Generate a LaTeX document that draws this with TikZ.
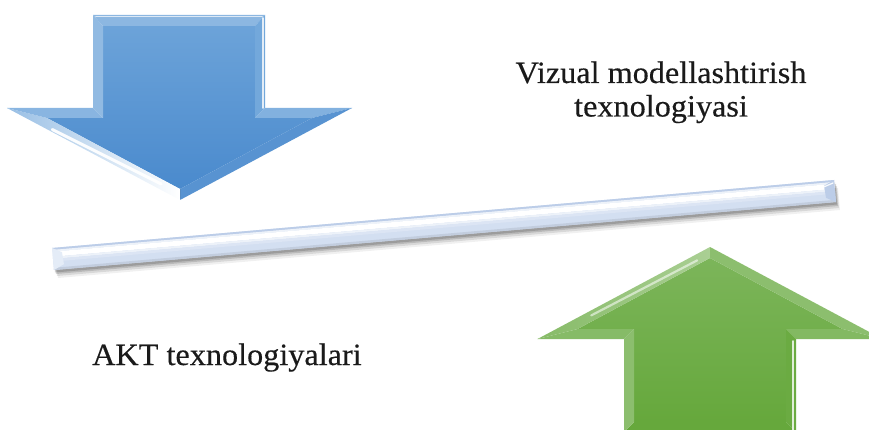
\documentclass[tikz,border=0pt]{standalone}
\usepackage{fontspec}
\setmainfont{Liberation Serif}[FakeStretch=1.04, FakeBold=0.35]
\usetikzlibrary{calc}
\definecolor{bBodyTop}{HTML}{6CA3D9}
\definecolor{bBodyBot}{HTML}{4A8ACD}
\definecolor{gBodyTop}{HTML}{7CB55A}
\definecolor{gBodyBot}{HTML}{66A83C}
\definecolor{barBase}{HTML}{D3DFF1}
\definecolor{barEdge}{HTML}{BCCDE8}
\definecolor{txt}{HTML}{1A1A1A}
\tikzset{
  lbl/.style={font=\fontsize{31}{37}\selectfont, text=txt, inner sep=0pt, anchor=base},
  hl/.style={draw=white, line width=1.6pt, opacity=0.8, line cap=round},
}
\newcommand\barband[3]{\fill[#3] ($(rTL)!#1!(rBL)$) -- ($(rTR)!#1!(rBR)$) -- ($(rTR)!#2!(rBR)$) -- ($(rTL)!#2!(rBL)$) -- cycle;}
\begin{document}
\begin{tikzpicture}[x=1pt,y=-1pt]
\useasboundingbox (0,0) rectangle (869,430);
\clip (0,0) rectangle (869,430);

% ---------------- blue arrow (down) ----------------
\coordinate (bA) at (93,15);   \coordinate (bB) at (265,15);
\coordinate (bC) at (265,108); \coordinate (bD) at (352,108);
\coordinate (bE) at (180,200); \coordinate (bF) at (7,108);
\coordinate (bG) at (93,108);
\coordinate (bAi) at (103,26);  \coordinate (bBi) at (255,26);
\coordinate (bCi) at (255,118); \coordinate (bDi) at (312,118);
\coordinate (bEi) at (180,189); \coordinate (bFi) at (47,118);
\coordinate (bGi) at (103,118);
% body
\shade[top color=bBodyTop, bottom color=bBodyBot]
  (bAi) -- (bBi) -- (bCi) -- (bDi) -- (bEi) -- (bFi) -- (bGi) -- cycle;
% bevel faces
\fill[color=bBodyTop!78!white] (bA) -- (bB) -- (bBi) -- (bAi) -- cycle;
\fill[color=bBodyTop!95!white] (bB) -- (bC) -- (bCi) -- (bBi) -- cycle;
\fill[color=bBodyTop!85!white] (bC) -- (bD) -- (bDi) -- (bCi) -- cycle;
\fill[color=bBodyBot!92!white] (bD) -- (bE) -- (bEi) -- (bDi) -- cycle;
\shade[left color=bBodyTop!70!white, right color=white] (bE) -- (bF) -- (bFi) -- (bEi) -- cycle;
\fill[color=bBodyTop!80!white] (bF) -- (bG) -- (bGi) -- (bFi) -- cycle;
\fill[color=bBodyTop!75!white] (bG) -- (bA) -- (bAi) -- (bGi) -- cycle;
\draw[hl] ($(bB)+(-2,3)$) -- ($(bC)+(-2,0)$);
\draw[hl, opacity=0.7] ($(bA)+(3,1.5)$) -- ($(bB)+(-3,1.5)$);
\draw[hl, opacity=0.95, line width=3pt] ($(bF)!0.25!(bE)+(2,-1.5)$) -- ($(bF)!0.88!(bE)+(2,-5)$);
\draw[bBodyBot!80!black, line width=0.6pt, opacity=0.4] (bEi) -- ($(bE)+(0,-1)$);

% ---------------- green arrow (up) ----------------
\coordinate (gT) at (710,247);   \coordinate (gHR) at (882.5,339);
\coordinate (gSRT) at (796,339); \coordinate (gSRB) at (796,432);
\coordinate (gSLB) at (624,432); \coordinate (gSLT) at (624,339);
\coordinate (gHL) at (537.5,339);
\coordinate (gTi) at (710,258);   \coordinate (gHRi) at (842.5,329);
\coordinate (gSRTi) at (786,329); \coordinate (gSRBi) at (786,422);
\coordinate (gSLBi) at (634,422); \coordinate (gSLTi) at (634,329);
\coordinate (gHLi) at (577.5,329);
\shade[top color=gBodyTop, bottom color=gBodyBot]
  (gTi) -- (gHRi) -- (gSRTi) -- (gSRBi) -- (gSLBi) -- (gSLTi) -- (gHLi) -- cycle;
\fill[color=gBodyTop!88!white] (gT) -- (gHR) -- (gHRi) -- (gTi) -- cycle;
\fill[color=gBodyTop!95!white] (gHR) -- (gSRT) -- (gSRTi) -- (gHRi) -- cycle;
\fill[color=gBodyBot!97!white] (gSRT) -- (gSRB) -- (gSRBi) -- (gSRTi) -- cycle;
\fill[color=gBodyBot] (gSRB) -- (gSLB) -- (gSLBi) -- (gSRBi) -- cycle;
\fill[color=gBodyTop!88!white] (gSLB) -- (gSLT) -- (gSLTi) -- (gSLBi) -- cycle;
\fill[color=gBodyTop!92!white] (gSLT) -- (gHL) -- (gHLi) -- (gSLTi) -- cycle;
\shade[left color=gBodyTop!92!white, right color=gBodyTop!65!white] (gHL) -- (gT) -- (gTi) -- (gHLi) -- cycle;
\draw[hl] ($(gSRT)+(-3,2)$) -- ($(gSRB)+(-3,0)$);
\draw[hl, opacity=0.55, line width=2.2pt] ($(gHL)!0.3!(gT)+(2,4)$) -- ($(gHL)!0.92!(gT)+(1,6)$);

% ---------------- bar ----------------
\coordinate (rTL) at (52,248);  \coordinate (rTR) at (834,180);
\coordinate (rBL) at (54,270);  \coordinate (rBR) at (836,202);
\foreach \dx/\dy/\op in {4/8/0.06, 3/6/0.10, 2/4/0.14, 1/2.5/0.16}{
  \fill[black, opacity=\op] ($(rTL)+(\dx,\dy)$) -- ($(rTR)+(\dx,\dy)$) -- ($(rBR)+(\dx,\dy)$) -- ($(rBL)+(\dx,\dy)$) -- cycle;
}
\fill[barBase] (rTL) -- (rTR) -- (rBR) -- (rBL) -- cycle;
\barband{0}{0.09}{barEdge}
\barband{0.09}{0.17}{barBase!40!white}
\barband{0.17}{0.40}{white}
\barband{0.40}{0.50}{barBase!40!white}
\barband{0.50}{0.62}{barBase!80!white}
\barband{0.90}{1}{barBase!92!black}
% end bevels
\fill[barBase!60!white] (rTL) -- ($(rTL)!10pt!(rTR)+(0,5)$) -- ($(rBL)!10pt!(rBR)+(0,-5)$) -- (rBL) -- cycle;
\fill[barEdge] (rTR) -- ($(rTR)!10pt!(rTL)+(0,5)$) -- ($(rBR)!10pt!(rBL)+(0,-5)$) -- (rBR) -- cycle;
\draw[hl, opacity=0.9, line width=1.2pt] ($(rTR)+(-1,3)$) -- ($(rTR)!10pt!(rTL)+(0,6)$);

% ---------------- labels ----------------
\node[lbl] (vm1) at (661,83) {Vizual modellashtirish};
\node[lbl] (vm2) at (661,116.5) {texnologiyasi};
\node[lbl, anchor=base west] (akt) at (92,365) {AKT texnologiyalari};
\end{tikzpicture}
\end{document}
